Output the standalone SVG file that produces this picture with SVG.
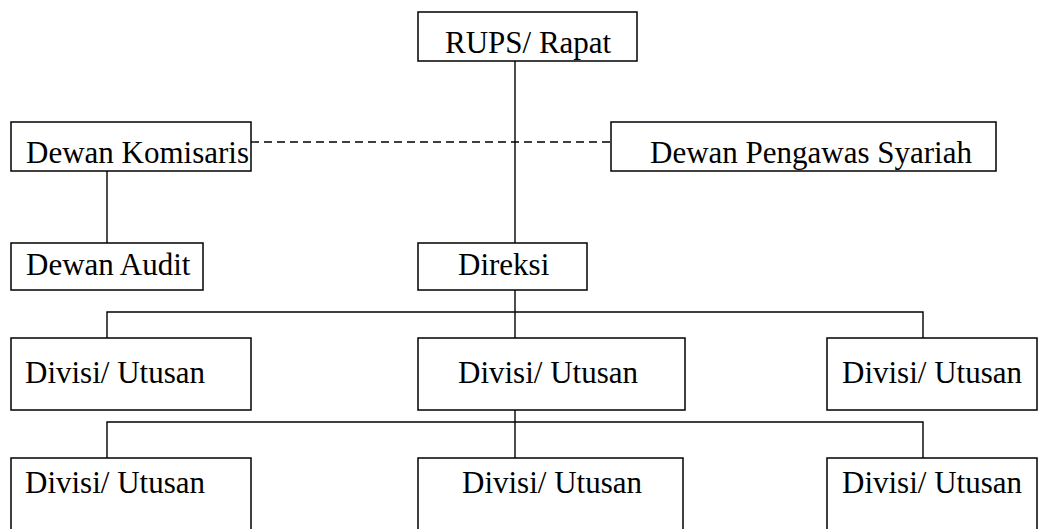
<svg xmlns="http://www.w3.org/2000/svg" width="1039" height="529" viewBox="0 0 1039 529">
<style>
.box{fill:#fff;stroke:#000;stroke-width:1.5}
.c{stroke:#000;stroke-width:1.4;fill:none}
.d{stroke:#000;stroke-width:1.4;fill:none;stroke-dasharray:8,5}
</style>
<rect width="1039" height="529" fill="#fff"/>
<g id="connectors">
<line class="c" x1="515" y1="61" x2="515" y2="243"/>
<line class="d" x1="251" y1="142" x2="611" y2="142"/>
<line class="c" x1="107" y1="171" x2="107" y2="243"/>
<line class="c" x1="515" y1="290" x2="515" y2="338"/>
<polyline class="c" points="107,338 107,312 923,312 923,338"/>
<line class="c" x1="515" y1="410" x2="515" y2="458"/>
<polyline class="c" points="107,458 107,422 923,422 923,458"/>
</g>
<g font-family="Liberation Serif, DejaVu Serif, serif" font-size="31" fill="#000">
<g id="rups"><rect class="box" x="418" y="12" width="219" height="49"/><text x="445" y="53">RUPS/ Rapat</text></g>
<g id="komisaris"><rect class="box" x="11" y="122" width="240" height="49"/><text x="26" y="163">Dewan Komisaris</text></g>
<g id="syariah"><rect class="box" x="611" y="122" width="385" height="49"/><text x="650" y="163">Dewan Pengawas Syariah</text></g>
<g id="audit"><rect class="box" x="11" y="243" width="192" height="47"/><text x="26" y="275">Dewan Audit</text></g>
<g id="direksi"><rect class="box" x="418" y="243" width="169" height="47"/><text x="458" y="275">Direksi</text></g>
<g id="div1"><rect class="box" x="11" y="338" width="240" height="72"/><text x="25" y="383">Divisi/ Utusan</text></g>
<g id="div2"><rect class="box" x="418" y="338" width="267" height="72"/><text x="458" y="383">Divisi/ Utusan</text></g>
<g id="div3"><rect class="box" x="827" y="338" width="210" height="72"/><text x="842" y="383">Divisi/ Utusan</text></g>
<g id="div4"><rect class="box" x="11" y="458" width="240" height="80"/><text x="25" y="493">Divisi/ Utusan</text></g>
<g id="div5"><rect class="box" x="418" y="458" width="265" height="80"/><text x="462" y="493">Divisi/ Utusan</text></g>
<g id="div6"><rect class="box" x="827" y="458" width="210" height="80"/><text x="842" y="493">Divisi/ Utusan</text></g>
</g>
</svg>
